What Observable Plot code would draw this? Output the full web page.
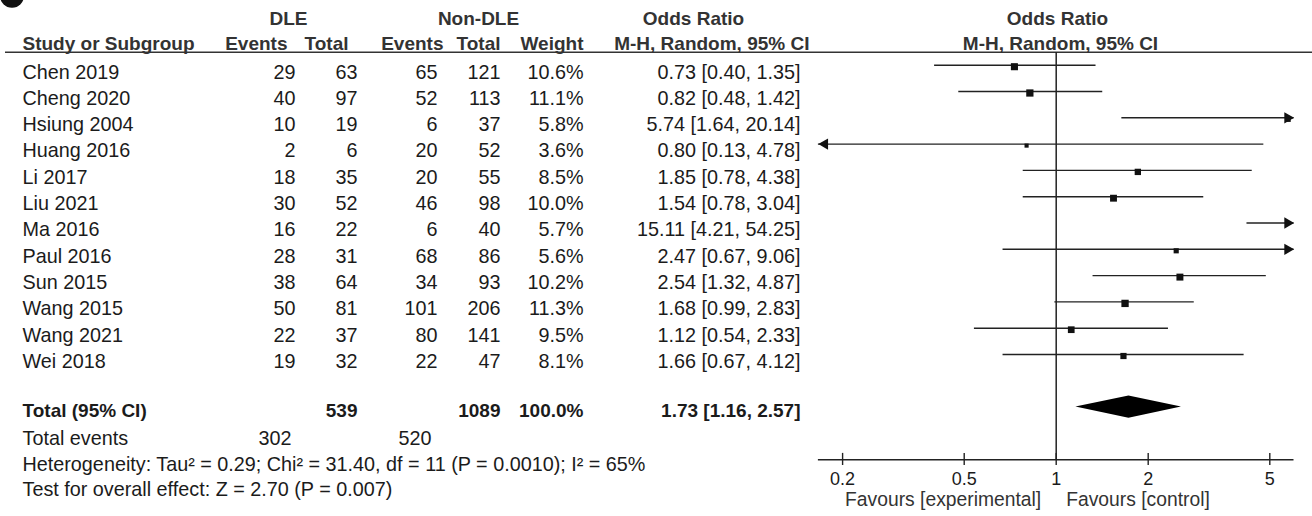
<!DOCTYPE html>
<html><head><meta charset="utf-8">
<script src="https://cdn.jsdelivr.net/npm/d3@7"></script>
<script src="https://cdn.jsdelivr.net/npm/@observablehq/plot@0.6"></script>
<style>
html,body{margin:0;padding:0;background:#fff;}
svg{display:block;}
</style></head><body><div id="chart"></div>
<script>
// ---- data ----
const studies = ["Chen 2019","Cheng 2020","Hsiung 2004","Huang 2016","Li 2017","Liu 2021","Ma 2016","Paul 2016","Sun 2015","Wang 2015","Wang 2021","Wei 2018"];
const dleEvents = [29,40,10,2,18,30,16,28,38,50,22,19];
const dleTotal = [63,97,19,6,35,52,22,31,64,81,37,32];
const nonEvents = [65,52,6,20,20,46,6,68,34,101,80,22];
const nonTotal = [121,113,37,52,55,98,40,86,93,206,141,47];
const weights = [10.6,11.1,5.8,3.6,8.5,10.0,5.7,5.6,10.2,11.3,9.5,8.1];
const oddsRatio = [0.73,0.82,5.74,0.80,1.85,1.54,15.11,2.47,2.54,1.68,1.12,1.66];
const ciLow = [0.40,0.48,1.64,0.13,0.78,0.78,4.21,0.67,1.32,0.99,0.54,0.67];
const ciHigh = [1.35,1.42,20.14,4.78,4.38,3.04,54.25,9.06,4.87,2.83,2.33,4.12];

const totalLabel = "Total (95% CI)";
const totalDle = 539, totalNon = 1089, totalWeight = 100.0;
const totalOR = 1.73, totalLow = 1.16, totalHigh = 2.57;
const eventsLabel = "Total events";
const totalEventsDle = 302, totalEventsNon = 520;
const heterogeneity = "Heterogeneity: Tau² = 0.29; Chi² = 31.40, df = 11 (P = 0.0010); I² = 65%";
const overallTest = "Test for overall effect: Z = 2.70 (P = 0.007)";

const headTop = ["DLE","Non-DLE","Odds Ratio","Odds Ratio"];
const headSub = ["Study or Subgroup","Events","Total","Events","Total","Weight","M-H, Random, 95% CI","M-H, Random, 95% CI"];
const axisTicks = [0.2,0.5,1,2,5];
const favourLeft = "Favours [experimental]";
const favourRight = "Favours [control]";

// ---- layout (pixels / styles, not data) ----
const W = 1312, H = 516, L = 5;
const FS = 19.8, FSB = 19;
const INK = "#1b1b1b";
const font = "'Liberation Sans', Arial, Helvetica, sans-serif";
const colRight = [295, 357, 437, 500, 583, 800];
const studyLeft = 22;
const headTopX = [288, 478, 693, 1057];
const headSubX = [[22,"start"],[287,"end"],[348,"end"],[443,"end"],[500,"end"],[583,"end"],[809,"end"],[1060,"middle"]];
const textDy = 7;
const xDomain = [1/6, 6];
const totalRow = 13, eventsRow = 14, hetRow = 15, testRow = 16, axisRow = 15;
const diamondHalf = 0.42;

const rows = studies.map((s, i) => ({
  i, study: s, e1: dleEvents[i], n1: dleTotal[i], e2: nonEvents[i], n2: nonTotal[i],
  w: weights[i], or: oddsRatio[i], lo: ciLow[i], hi: ciHigh[i]
}));
const f2 = v => v.toFixed(2);
const ciText = (o, l, h) => `${f2(o)} [${f2(l)}, ${f2(h)}]`;

const base = {fontSize: FS, fill: INK, stroke: "none", lineAnchor: "middle"};
const bold = {fontWeight: "bold", fontSize: FSB};
const col = (k, accessor, opts = {}) => Plot.text(rows, {
  ...base, y: "i", text: accessor, frameAnchor: "left", dx: colRight[k] - L, dy: textDy, textAnchor: "end", ...opts
});
const at = (txt, x, y, anchor, opts = {}) => Plot.text([txt], {
  ...base, text: d => d, frameAnchor: "top-left", dx: x - L, dy: y, textAnchor: anchor, ...opts
});
const rowText = (txt, row, x, anchor, opts = {}) => Plot.text([txt], {
  ...base, text: d => d, y: () => row, frameAnchor: "left", dx: x - L, dy: textDy, textAnchor: anchor, ...opts
});

const diamond = [
  {x: totalLow, y1: totalRow, y2: totalRow},
  {x: totalOR, y1: totalRow - diamondHalf, y2: totalRow + diamondHalf},
  {x: totalHigh, y1: totalRow, y2: totalRow}
];

const inside = d => d.or >= xDomain[0] && d.or <= xDomain[1];

const chart = Plot.plot({
  width: W, height: H,
  marginLeft: L, marginRight: 0, marginTop: 0, marginBottom: 0,
  style: {fontFamily: font, background: "#fff", overflow: "visible"},
  x: {type: "log", domain: xDomain, range: [817.9, 1293.5], clamp: true, axis: null},
  y: {type: "linear", domain: [0, axisRow], range: [64.7, 64.7 + 26.3 * axisRow], axis: null},
  r: {type: "sqrt", domain: [0, 10.6], range: [0, 4]},
  marks: [
    // panel badge (cropped)
    Plot.dot([0], {frameAnchor: "top-left", dx: 11.5 - L, dy: -4.7, r: 12, fill: "#111", stroke: "none"}),
    // headers
    ...headTop.map((t, k) => at(t, headTopX[k], 18, "middle", {...bold, fill: "#333"})),
    ...headSub.map((t, k) => at(t, headSubX[k][0], 43.5, headSubX[k][1], {...bold, fill: "#333"})),
    Plot.ruleY([-0.494], {stroke: "#333", strokeWidth: 1.5}),
    // study rows
    Plot.text(rows, {...base, y: "i", text: "study", frameAnchor: "left", dx: studyLeft - L, dy: textDy, textAnchor: "start"}),
    col(0, "e1"), col(1, "n1"), col(2, "e2"), col(3, "n2"),
    col(4, d => d.w.toFixed(1) + "%"),
    col(5, d => ciText(d.or, d.lo, d.hi)),
    // total rows
    rowText(totalLabel, totalRow, studyLeft, "start", {...bold, dy: 4}),
    rowText(String(totalDle), totalRow, colRight[1], "end", {...bold, dy: 4}),
    rowText(String(totalNon), totalRow, colRight[3], "end", {...bold, dy: 4}),
    rowText(totalWeight.toFixed(1) + "%", totalRow, colRight[4], "end", {...bold, dy: 4}),
    rowText(ciText(totalOR, totalLow, totalHigh), totalRow, colRight[5], "end", {...bold, dy: 4}),
    rowText(eventsLabel, eventsRow, studyLeft, "start", {dy: 5}),
    rowText(String(totalEventsDle), eventsRow, colRight[0] - 4, "end", {dy: 5}),
    rowText(String(totalEventsNon), eventsRow, colRight[2] - 6, "end", {dy: 5}),
    rowText(heterogeneity, hetRow, studyLeft, "start", {dy: 5}),
    rowText(overallTest, testRow, studyLeft, "start", {dy: 4}),
    // forest plot
    Plot.ruleX([1], {y1: -0.48, y2: axisRow, stroke: "#222", strokeWidth: 1.5}),
    Plot.ruleY(rows, {y: "i", x1: "lo", x2: "hi", stroke: "#222", strokeWidth: 1.4}),
    Plot.dot(rows.filter(inside), {x: "or", y: "i", r: "w", symbol: "square", fill: "#111", stroke: "none", dy: 1.5}),
    Plot.dot(rows.filter(d => d.hi > xDomain[1]), {x: () => xDomain[1], y: "i", symbol: "triangle", r: 4.2, rotate: 90, dx: -6.4, fill: "#111", stroke: "none"}),
    Plot.dot(rows.filter(d => d.lo < xDomain[0]), {x: () => xDomain[0], y: "i", symbol: "triangle", r: 4.2, rotate: -90, dx: 6.4, fill: "#111", stroke: "none"}),
    Plot.areaY(diamond, {x: "x", y1: "y1", y2: "y2", fill: "#000", curve: "linear"}),
    // axis
    Plot.ruleY([axisRow], {x1: () => xDomain[0], x2: () => xDomain[1], stroke: "#222", strokeWidth: 1.4}),
    Plot.ruleX(axisTicks, {x: d => d, y1: axisRow - 0.24, y2: axisRow + 0.22, stroke: "#222", strokeWidth: 1.4}),
    Plot.text(axisTicks, {...base, fontSize: 18, x: d => d, y: () => axisRow, dy: 20, text: d => String(d), textAnchor: "middle"}),
    Plot.text([favourLeft], {...base, fontSize: 19.3, x: () => 1, y: () => axisRow, dy: 40, dx: -15, text: d => d, textAnchor: "end", fill: "#333"}),
    Plot.text([favourRight], {...base, fontSize: 19.3, x: () => 1, y: () => axisRow, dy: 40, dx: 10, text: d => d, textAnchor: "start", fill: "#333"})
  ]
});
document.getElementById("chart").append(chart);
</script>
</body></html>
